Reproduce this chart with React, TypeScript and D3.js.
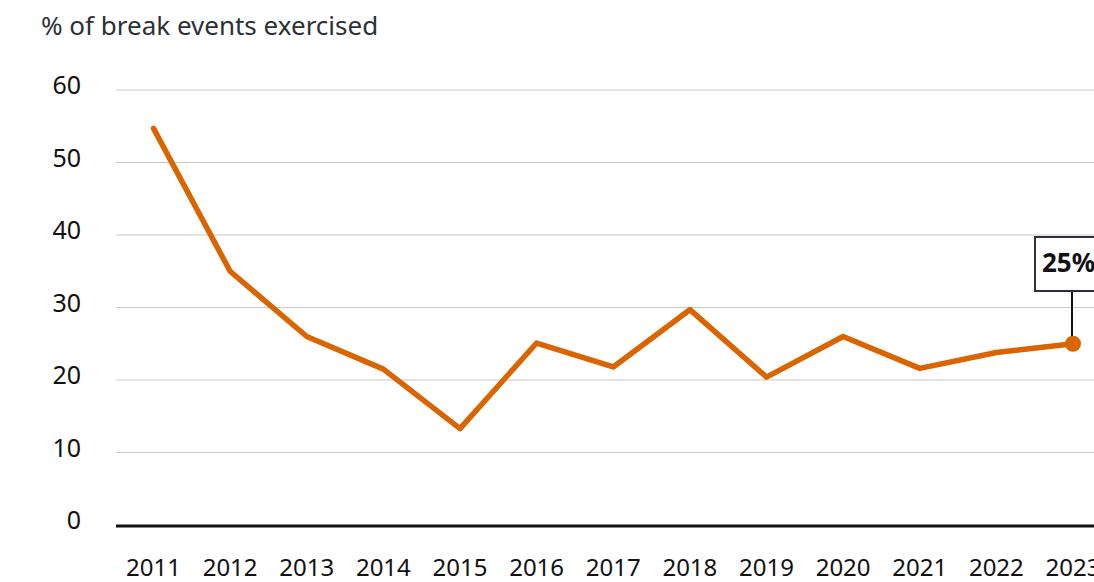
import React from "react";
import * as d3 from "d3";

const years = [2011, 2012, 2013, 2014, 2015, 2016, 2017, 2018, 2019, 2020, 2021, 2022, 2023];
const values = [54.7, 35.0, 26.0, 21.5, 13.3, 25.1, 21.8, 29.7, 20.4, 26.0, 21.6, 23.8, 25.0];
const yTicks = [0, 10, 20, 30, 40, 50, 60];
const title = "% of break events exercised";
const annotation = "25%";

const W = 1094;
const H = 582;
const FONT = "'Noto Sans', 'Open Sans', sans-serif";

export default function App() {
  const x = d3.scaleLinear().domain([2011, 2023]).range([153.5, 1073]);
  const y = d3.scaleLinear().domain([0, 60]).range([525, 90]);
  const line = d3
    .line<number>()
    .x((_, i) => x(years[i]))
    .y((d) => y(d));
  const lastX = x(years[years.length - 1]);
  const lastY = y(values[values.length - 1]);

  return (
    <div style={{ position: "absolute", left: 0, top: 0 }}>
      <svg width={W} height={H} style={{ display: "block" }} fontFamily={FONT}>
        <rect width={W} height={H} fill="#fff" />
        <text x={41} y={35} fontSize={26} fill="#2b3137">
          {title}
        </text>
        {yTicks.map((t) => (
          <g key={t}>
            {t !== 0 && (
              <line x1={116} x2={W} y1={y(t)} y2={y(t)} stroke="#c8c8c8" strokeWidth={1} />
            )}
            <text x={81} y={y(t) + 4} fontSize={25} textAnchor="end" fill="#111">
              {t}
            </text>
          </g>
        ))}
        <line x1={116} x2={W} y1={526} y2={526} stroke="#111" strokeWidth={3} />
        {years.map((yr) => (
          <text key={yr} x={x(yr)} y={576} fontSize={24} textAnchor="middle" fill="#111">
            {yr}
          </text>
        ))}
        <path
          d={line(values) || ""}
          fill="none"
          stroke="#d96400"
          strokeWidth={5.5}
          strokeLinejoin="round"
          strokeLinecap="round"
        />
        <line x1={1072} x2={1072} y1={291} y2={lastY} stroke="#111" strokeWidth={2} />
        <circle cx={lastX} cy={lastY} r={8} fill="#d96400" />
        <rect x={1035} y={237} width={90} height={54} fill="#fff" stroke="#2b3137" strokeWidth={2} />
        <text x={1042} y={272} fontSize={26} fontWeight="bold" fill="#111">
          {annotation}
        </text>
      </svg>
    </div>
  );
}
